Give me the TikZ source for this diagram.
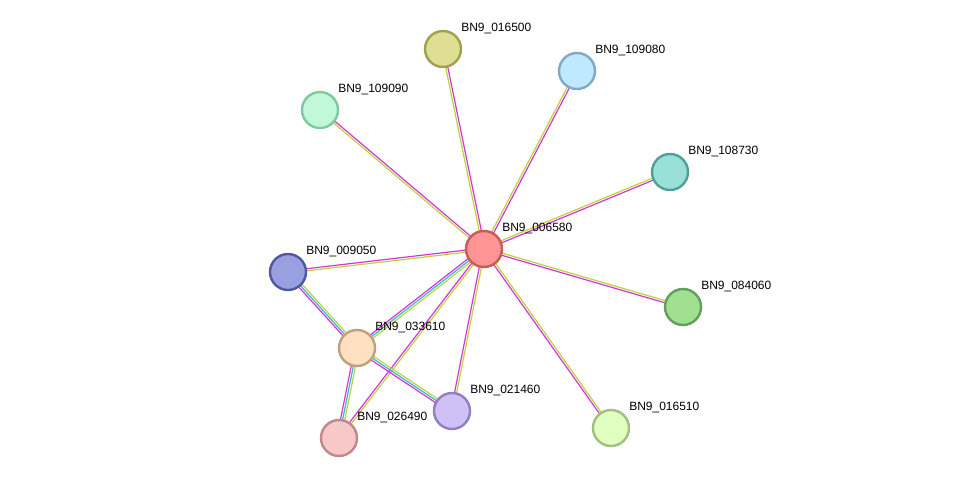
\documentclass[tikz,border=0pt]{standalone}
\usepackage{fontspec}
\setmainfont{Liberation Sans}
\usetikzlibrary{calc,backgrounds}
\definecolor{lnkA}{HTML}{D633D6}
\definecolor{lnkB}{HTML}{B8D438}
\definecolor{lnkC}{HTML}{33B8D6}
\tikzset{
  prot/.style={circle,minimum size=27pt,line width=1.8pt,inner sep=0pt},
  lbl/.style={anchor=west,inner sep=0pt,font=\fontsize{9}{10}\selectfont},
}
% #1,#2 nodes, #3 number of lines, #4 colours
\newcommand\link[4]{%
  \foreach \c [count=\i] in {#4}{%
    \pgfmathsetmacro\o{(\i-(#3+1)/2)*1.6}
    \draw[\c,line width=0.9pt] ($(#1)!\o pt!90:(#2)$) -- ($(#2)!\o pt!-90:(#1)$);
  }}
\begin{document}
\begin{tikzpicture}[x=0.75pt,y=-0.75pt]
  \useasboundingbox (0,0) rectangle (975,484);
  % proteins
  \node[prot,fill={rgb,255:red,255;green,148;blue,148},draw={rgb,255:red,200;green,90;blue,90}] (c) at (484,249) {};
  \node[prot,fill={rgb,255:red,222;green,222;blue,148},draw={rgb,255:red,160;green,160;blue,80}] (a) at (443,49) {};
  \node[prot,fill={rgb,255:red,192;green,232;blue,255},draw={rgb,255:red,128;green,168;blue,200}] (b) at (577,71) {};
  \node[prot,fill={rgb,255:red,192;green,248;blue,216},draw={rgb,255:red,128;green,200;blue,160}] (d) at (320,110) {};
  \node[prot,fill={rgb,255:red,152;green,224;blue,216},draw={rgb,255:red,80;green,160;blue,152}] (e) at (670,172) {};
  \node[prot,fill={rgb,255:red,152;green,160;blue,224},draw={rgb,255:red,80;green,88;blue,160}] (f) at (288,272) {};
  \node[prot,fill={rgb,255:red,160;green,224;blue,144},draw={rgb,255:red,96;green,160;blue,88}] (g) at (683,307) {};
  \node[prot,fill={rgb,255:red,255;green,224;blue,192},draw={rgb,255:red,192;green,160;blue,128}] (h) at (357,348) {};
  \node[prot,fill={rgb,255:red,208;green,192;blue,248},draw={rgb,255:red,144;green,128;blue,192}] (i) at (452,411) {};
  \node[prot,fill={rgb,255:red,248;green,200;blue,200},draw={rgb,255:red,192;green,136;blue,136}] (j) at (339,438) {};
  \node[prot,fill={rgb,255:red,224;green,255;blue,192},draw={rgb,255:red,160;green,192;blue,128}] (k) at (611,428) {};
  % labels
  \foreach \n/\t in {c/006580,a/016500,b/109080,d/109090,e/108730,f/009050,
                     g/084060,h/033610,i/021460,j/026490,k/016510}
    \node[lbl] (l\n) at ([shift={(18,-20)}]\n.center) {BN9\_\t};
  % interactions
  \begin{scope}[on background layer]
    \foreach \n in {a,b,d,e,f,g,i,j,k}
      {\link{c}{\n}{2}{lnkA,lnkB}}
    \link{c}{h}{3}{lnkA,lnkC,lnkB}
    \link{f}{h}{3}{lnkA,lnkC,lnkB}
    \link{h}{j}{3}{lnkA,lnkC,lnkB}
    \link{h}{i}{3}{lnkA,lnkC,lnkB}
  \end{scope}
\end{tikzpicture}
\end{document}
